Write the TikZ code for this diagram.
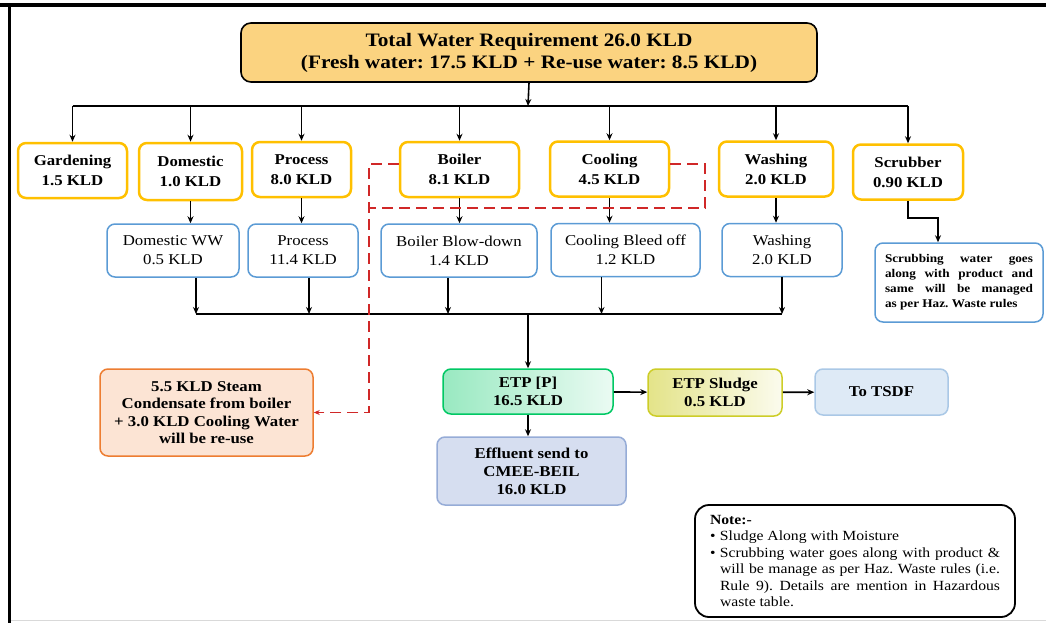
\documentclass[tikz,border=0pt]{standalone}
\usepackage{fontspec}
\setmainfont{Liberation Serif}[FakeStretch=1.12]
\usepackage{tikz}
\usetikzlibrary{arrows.meta, positioning}
\frenchspacing
\definecolor{demandgold}{RGB}{255,192,0}
\definecolor{totalfill}{RGB}{251,211,128}
\definecolor{wwblue}{RGB}{91,155,213}
\definecolor{reusered}{RGB}{208,40,40}
\definecolor{reusefill}{RGB}{252,228,212}
\definecolor{reusedraw}{RGB}{237,125,49}
\definecolor{etpdraw}{RGB}{0,200,100}
\definecolor{sludgedraw}{RGB}{205,205,40}
\definecolor{tsdffill}{RGB}{222,234,246}
\definecolor{tsdfdraw}{RGB}{170,200,230}
\definecolor{efffill}{RGB}{214,222,240}
\definecolor{effdraw}{RGB}{150,172,215}

\begin{document}
\begin{tikzpicture}[x=1pt, y=-1pt,
    topbox/.style={
        draw=black, line width=1.6pt, rounded corners=10pt,
        fill=totalfill, align=center,
        font=\bfseries\fontsize{19}{22}\selectfont
    },
    usebox/.style={
        draw=demandgold, line width=2.5pt, rounded corners=8pt,
        fill=white, minimum height=55pt, align=center,
        font=\bfseries\fontsize{15}{20}\selectfont
    },
    wwbox/.style={
        draw=wwblue, line width=1.5pt, rounded corners=8pt,
        fill=white, minimum height=53pt, align=center,
        font=\fontsize{15}{19}\selectfont
    },
    endbox/.style={
        line width=1.5pt, rounded corners=8pt, align=center,
        font=\bfseries\fontsize{15}{18}\selectfont
    },
    notebox/.style={
        draw=black, line width=1.8pt, rounded corners=14pt,
        fill=white, align=left, font=\fontsize{14}{16.5}\selectfont
    },
    arr/.style={-{Stealth[length=7pt, width=6pt]}, line width=1.6pt, black},
    bus/.style={line width=1.6pt, black},
    ret/.style={dash pattern=on 11pt off 6pt, line width=1.8pt, reusered}
]
\useasboundingbox (0,0) rectangle (1046,623);

% frame
\draw[line width=4pt] (0,5.5) -- (1046,5.5);
\draw[line width=3.5pt] (9.5,4) -- (9.5,623);
\draw[black!15, line width=1.2pt] (11,620.5) -- (1046,620.5);

% total demand
\node[topbox, minimum width=576, minimum height=59] (total) at (529,52.5)
    {Total Water Requirement 26.0 KLD\\(Fresh water: 17.5 KLD + Re-use water: 8.5 KLD)};

% uses
\node[usebox, minimum width=109] (gar) at (72.5,170.5) {Gardening\\1.5 KLD};
\node[usebox, minimum width=103, minimum height=57] (dom) at (190.5,171.5) {Domestic\\1.0 KLD};
\node[usebox, minimum width=99] (pro) at (301.5,169.5) {Process\\8.0 KLD};
\node[usebox, minimum width=119] (boi) at (459.5,169.5) {Boiler\\8.1 KLD};
\node[usebox, minimum width=119] (coo) at (609.5,169) {Cooling\\4.5 KLD};
\node[usebox, minimum width=114] (was) at (776,169) {Washing\\2.0 KLD};
\node[usebox, minimum width=110] (scr) at (908,172) {Scrubber\\0.90 KLD};

% waste water
\node[wwbox, minimum width=132] (dww) at (173,250.5) {Domestic WW\\0.5 KLD};
\node[wwbox, minimum width=110] (pww) at (303,250.5) {Process\\11.4 KLD};
\node[wwbox, minimum width=156] (bbd) at (459,250.5) {Boiler Blow-down\\1.4 KLD};
\node[wwbox, minimum width=149] (cbo) at (625.5,250) {Cooling Bleed off\\1.2 KLD};
\node[wwbox, minimum width=120] (wsh) at (782,250) {Washing\\2.0 KLD};
\node[wwbox, minimum width=168, minimum height=79, text width=148, align=justify,
    font=\bfseries\fontsize{11.8}{15}\selectfont] (scn) at (959,282.5)
    {Scrubbing water goes\linebreak along with product and\linebreak
     same will be managed\linebreak as per Haz. Waste rules};

% treatment
\node[endbox, draw=etpdraw, left color=etpdraw!40, right color=etpdraw!8,
    minimum width=170, minimum height=45] (etp) at (528,391.5) {ETP [P]\\16.5 KLD};
\node[endbox, draw=sludgedraw, left color=sludgedraw!55, right color=sludgedraw!8,
    minimum width=134, minimum height=47] (sld) at (715,392.5) {ETP Sludge\\0.5 KLD};
\node[endbox, draw=tsdfdraw, fill=tsdffill,
    minimum width=133, minimum height=46] (tsdf) at (881.5,392) {To TSDF};
\node[endbox, draw=effdraw, fill=efffill,
    minimum width=189, minimum height=68] (eff) at (531.5,471)
    {Effluent send to\\CMEE-BEIL\\16.0 KLD};
\node[endbox, draw=reusedraw, fill=reusefill, font=\bfseries\fontsize{15}{17.5}\selectfont,
    minimum width=213, minimum height=87] (reu) at (206.5,412.5)
    {5.5 KLD Steam\\Condensate from boiler\\+ 3.0 KLD Cooling Water\\will be re-use};

% note
\node[notebox, minimum width=320, minimum height=112] (note) at (855,561)
    {\textbf{Note:-}\\
     \makebox[10pt][l]{\textbullet}Sludge Along with Moisture\\
     \makebox[10pt][l]{\textbullet}\parbox[t]{280pt}{\hyphenpenalty=10000
        Scrubbing water goes along with product \&\linebreak
        will be manage as per Haz. Waste rules (i.e.\linebreak
        Rule 9). Details are mention in Hazardous\linebreak
        waste table.}};

% supply bus
\coordinate (tbus) at (528,106);
\draw[arr] (total.south) -- (tbus);
\draw[bus] (gar.north |- tbus) -- (scr.north |- tbus);
\foreach \n in {gar,dom,pro,boi,coo,was,scr}
    \draw[arr] (\n.north |- tbus) -- (\n.north);

% use -> waste water
\foreach \a/\b in {dom/dww, pro/pww, boi/bbd, coo/cbo, was/wsh}
    \draw[arr] (\a.south) -- (\a.south |- \b.north);
\draw[arr] (scr.south) -- ++(0,17) -| ([xshift=-21]scn.north);

% collection bus
\coordinate (bbus) at (528,314);
\foreach \n/\dx in {dww/23, pww/6, bbd/-11, cbo/-24, wsh/0}
    \draw[arr] ([xshift=\dx]\n.south) -- ([xshift=\dx]\n.south |- bbus);
\draw[bus] ([xshift=23]dww.south |- bbus) -- (wsh.south |- bbus);
\draw[arr] (bbus) -- (etp.north);
\draw[arr] (etp.south) -- (etp.south |- eff.north);
\draw[arr] (etp) -- (sld);
\draw[arr] (sld) -- (tsdf);

% re-use loop
\coordinate (rtl) at (369,164);
\coordinate (rtr) at (705,164);
\coordinate (rbr) at (705,208);
\draw[ret, -{Stealth[length=6pt, width=5pt]}] (boi.west |- rtl) -- (rtl) -- (rtl |- reu.east) -- (reu.east);
\draw[ret] (coo.east |- rtr) -- (rtr) -- (rbr) -- (rtl |- rbr);
\end{tikzpicture}
\end{document}
